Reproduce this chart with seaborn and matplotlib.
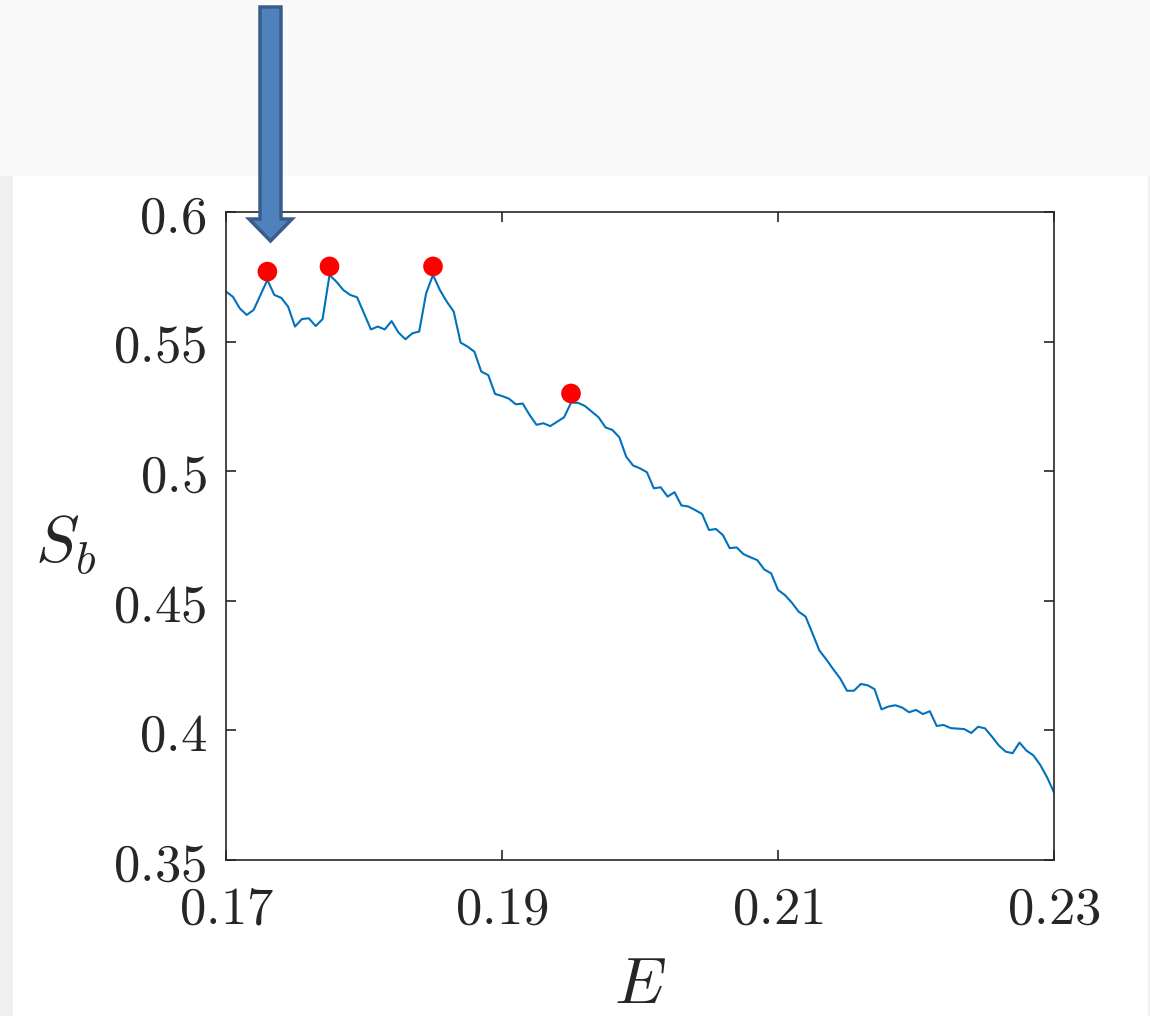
# Recreate S_b vs E curve with marked peaks
import numpy as np
import pandas as pd
import matplotlib.pyplot as plt
import matplotlib.patches as mpatches
from matplotlib.ticker import FixedLocator, FixedFormatter
import seaborn as sns

# Curve data
E = [0.1700, 0.1705, 0.1710, 0.1715, 0.1720, 0.1725, 0.1730, 0.1735, 0.1740, 0.1745,
     0.1750, 0.1755, 0.1760, 0.1765, 0.1770, 0.1775, 0.1780, 0.1785, 0.1790, 0.1795,
     0.1800, 0.1805, 0.1810, 0.1815, 0.1820, 0.1825, 0.1830, 0.1835, 0.1840, 0.1845,
     0.1850, 0.1855, 0.1860, 0.1865, 0.1870, 0.1875, 0.1880, 0.1885, 0.1890, 0.1895,
     0.1900, 0.1905, 0.1910, 0.1915, 0.1920, 0.1925, 0.1930, 0.1935, 0.1940, 0.1945,
     0.1950, 0.1955, 0.1960, 0.1965, 0.1970, 0.1975, 0.1980, 0.1985, 0.1990, 0.1995,
     0.2000, 0.2005, 0.2010, 0.2015, 0.2020, 0.2025, 0.2030, 0.2035, 0.2040, 0.2045,
     0.2050, 0.2055, 0.2060, 0.2065, 0.2070, 0.2075, 0.2080, 0.2085, 0.2090, 0.2095,
     0.2100, 0.2105, 0.2110, 0.2115, 0.2120, 0.2125, 0.2130, 0.2135, 0.2140, 0.2145,
     0.2150, 0.2155, 0.2160, 0.2165, 0.2170, 0.2175, 0.2180, 0.2185, 0.2190, 0.2195,
     0.2200, 0.2205, 0.2210, 0.2215, 0.2220, 0.2225, 0.2230, 0.2235, 0.2240, 0.2245,
     0.2250, 0.2255, 0.2260, 0.2265, 0.2270, 0.2275, 0.2280, 0.2285, 0.2290, 0.2295,
     0.2300]
Sb = [0.5693, 0.5673, 0.5628, 0.5603, 0.5622, 0.5680, 0.5738, 0.5680, 0.5669, 0.5635,
      0.5558, 0.5587, 0.5590, 0.5560, 0.5587, 0.5757, 0.5731, 0.5699, 0.5680, 0.5671,
      0.5609, 0.5547, 0.5558, 0.5547, 0.5579, 0.5535, 0.5509, 0.5532, 0.5539, 0.5686,
      0.5757, 0.5699, 0.5654, 0.5616, 0.5496, 0.5481, 0.5461, 0.5384, 0.5371, 0.5298,
      0.5290, 0.5280, 0.5258, 0.5261, 0.5217, 0.5179, 0.5185, 0.5174, 0.5191, 0.5208,
      0.5264, 0.5264, 0.5252, 0.5230, 0.5208, 0.5169, 0.5159, 0.5131, 0.5056, 0.5022,
      0.5011, 0.4996, 0.4934, 0.4938, 0.4902, 0.4919, 0.4868, 0.4864, 0.4850, 0.4835,
      0.4773, 0.4777, 0.4754, 0.4703, 0.4706, 0.4680, 0.4668, 0.4657, 0.4621, 0.4606,
      0.4542, 0.4522, 0.4493, 0.4458, 0.4439, 0.4374, 0.4308, 0.4274, 0.4236, 0.4201,
      0.4153, 0.4153, 0.4179, 0.4174, 0.4159, 0.4081, 0.4092, 0.4097, 0.4088, 0.4070,
      0.4079, 0.4063, 0.4074, 0.4017, 0.4021, 0.4009, 0.4007, 0.4005, 0.3990, 0.4014,
      0.4008, 0.3976, 0.3942, 0.3918, 0.3912, 0.3953, 0.3922, 0.3904, 0.3867, 0.3819,
      0.3761]

# Marked peaks
peak_E = [0.1730, 0.1775, 0.1850, 0.1950]
peak_Sb = [0.5770, 0.5790, 0.5790, 0.5300]

# Ticks
x_ticks = [0.17, 0.19, 0.21, 0.23]
x_labels = ['0.17', '0.19', '0.21', '0.23']
y_ticks = [0.35, 0.4, 0.45, 0.5, 0.55, 0.6]
y_labels = ['0.35', '0.4', '0.45', '0.5', '0.55', '0.6']

df = pd.DataFrame({'E': E, 'Sb': Sb})
peaks = pd.DataFrame({'E': peak_E, 'Sb': peak_Sb})

sns.set_style('ticks')
plt.rcParams['mathtext.fontset'] = 'cm'

fig = plt.figure(figsize=(11.5, 10.16), dpi=100, facecolor='#f0f0f0')

# slide-like background: light top band and white panel
fig.add_artist(mpatches.Rectangle((0, 8.40), 11.5, 1.76, transform=fig.dpi_scale_trans,
                                  facecolor='#f9f9f9', edgecolor='none', zorder=-2))
fig.add_artist(mpatches.Rectangle((0.13, 0), 11.35, 8.40, transform=fig.dpi_scale_trans,
                                  facecolor='white', edgecolor='none', zorder=-1))

ax = fig.add_axes([226 / 1150, 1 - 860 / 1016, 828 / 1150, 648 / 1016])
ax.set_facecolor('white')

sns.lineplot(data=df, x='E', y='Sb', ax=ax, color='#0072BD', linewidth=1.5)
sns.scatterplot(data=peaks, x='E', y='Sb', ax=ax, color='red', s=200,
                edgecolor='none', zorder=5)

ax.set_xlim(0.17, 0.23)
ax.set_ylim(0.35, 0.6)
ax.xaxis.set_major_locator(FixedLocator(x_ticks))
ax.xaxis.set_major_formatter(FixedFormatter(['$' + s + '$' for s in x_labels]))
ax.yaxis.set_major_locator(FixedLocator(y_ticks))
ax.yaxis.set_major_formatter(FixedFormatter(['$' + s + '$' for s in y_labels]))
ax.tick_params(direction='in', length=7, width=1.2, color='#262626',
               labelsize=38, labelcolor='#262626', top=True, right=True)
ax.tick_params(axis='x', pad=16)
ax.tick_params(axis='y', pad=14)
for sp in ax.spines.values():
    sp.set_visible(True)
    sp.set_color('#262626')
    sp.set_linewidth(1.2)

ax.set_xlabel('$E$', fontsize=47, color='#262626')
ax.set_ylabel('$S_b$', fontsize=47, color='#262626', rotation=0)
ax.xaxis.set_label_coords(0.5, -0.193)
ax.yaxis.set_label_coords(-0.194, 0.486)
ax.xaxis.label.set_va('center')
ax.yaxis.label.set_va('center')
ax.yaxis.label.set_ha('center')

# blue arrow pointing at the first peak
arrow = mpatches.FancyArrow(2.705, 10.09, 0, -2.34, width=0.21, head_width=0.43,
                            head_length=0.22, length_includes_head=True,
                            transform=fig.dpi_scale_trans, facecolor='#4f81bd',
                            edgecolor='#385d8a', linewidth=2.5, zorder=10)
fig.add_artist(arrow)

plt.savefig('out.png', dpi=100, facecolor=fig.get_facecolor())
